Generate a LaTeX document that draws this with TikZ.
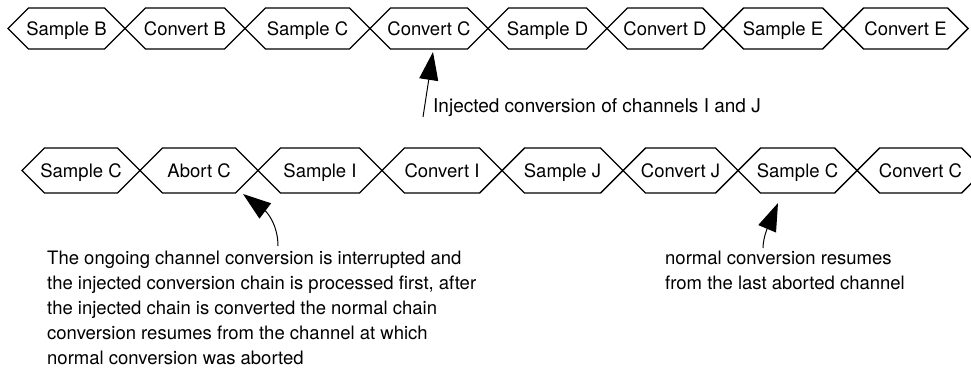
\documentclass[tikz,border=0pt]{standalone}
\usepackage{fontspec}
\setmainfont{TeX Gyre Heros}
\usetikzlibrary{arrows.meta}
\begin{document}
\begin{tikzpicture}[x=1pt,y=-1pt,
  bus/.style={line width=1.4pt, line join=miter, miter limit=6},
  lbl/.style={font=\fontsize{18.5}{22}\selectfont, inner sep=0pt, anchor=base},
  note/.style={font=\fontsize{18.5}{25}\selectfont, inner sep=0pt, align=left, anchor=north west},
  pointer/.style={line width=1pt, -{Triangle[length=28pt,width=19pt]}}]
\useasboundingbox (0,0) rectangle (971,372);
\clip (0,0) rectangle (971,372);
% top row
\foreach \a/\b/\t/\n in {8/125/Sample B/sB,125/245/Convert B/cB,245/370/Sample C/sC,370/488/Convert C/cC,488/607/Sample D/sD,607/723/Convert D/cD,723/843/Sample E/sE,843/968/Convert E/cE}{
  \draw[bus] (\a,28.5) -- (\a+20.5,8) -- (\b-20.5,8) -- (\b,28.5) -- (\b-20.5,49) -- (\a+20.5,49) -- cycle;
  \node[lbl] (\n) at ({(\a+\b)/2},35) {\t};
}
% bottom row
\foreach \a/\b/\t/\n in {22/140/Sample C/sCb,140/258/Abort C/aC,258/382/Sample I/sI,382/502/Convert I/cI,502/623/Sample J/sJ,623/738/Convert J/cJ,738/857/Sample C/sCc,857/984/Convert C/cCc}{
  \draw[bus] (\a,170.5) -- (\a+22.5,148) -- (\b-22.5,148) -- (\b,170.5) -- (\b-22.5,193) -- (\a+22.5,193) -- cycle;
  \node[lbl] (\n) at ({(\a+\b)/2},177) {\t};
}
% labels
\node[lbl, anchor=base west, font=\fontsize{19}{22}\selectfont] (inj) at (433,112) {Injected conversion of channels I and J};
\node[note] (n1) at (47,246.5) {\strut The ongoing channel conversion is interrupted and\\the injected conversion chain is processed first, after\\the injected chain is converted the normal chain\\conversion resumes from the channel at which\\normal conversion was aborted};
\node[note] (n2) at (665,246.5) {\strut normal conversion resumes\\from the last aborted channel};
% pointers
\coordinate (t1) at (423,117); \coordinate (h1) at (433,52);
\coordinate (t2) at (278,246); \coordinate (h2) at (243,194);
\coordinate (t3) at (763,248); \coordinate (h3) at (778,203);
\draw[pointer] (t1) -- (h1);
\draw[pointer] (t2) .. controls (278,226) and (268,213) .. (h2);
\draw[pointer] (t3) .. controls (763,236) and (770,222) .. (h3);
\end{tikzpicture}
\end{document}
